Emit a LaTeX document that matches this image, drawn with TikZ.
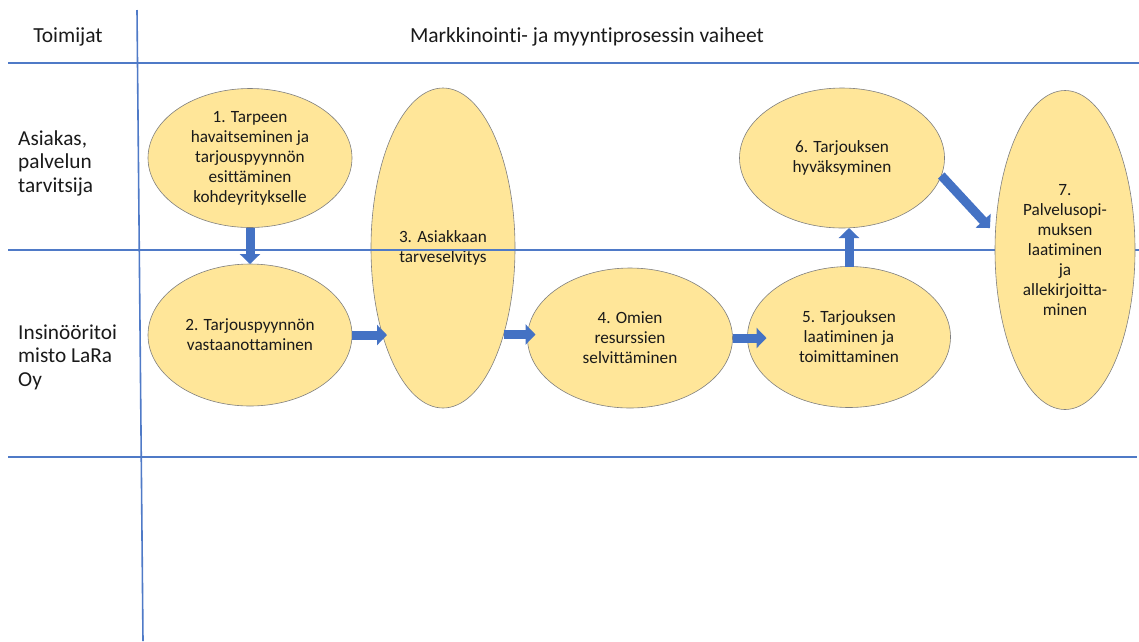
\documentclass[tikz,border=0pt]{standalone}
\usepackage{fontspec}
\setmainfont{Carlito}[Ligatures=NoCommon]
\usetikzlibrary{shapes.geometric,arrows.meta}
\definecolor{gridblue}{HTML}{4F7AC7}
\definecolor{arrowblue}{HTML}{4472C4}
\definecolor{stagefill}{HTML}{FFE699}
\definecolor{stageedge}{HTML}{7F7F7F}
\definecolor{textdark}{HTML}{1A1A1A}
\begin{document}
\begin{tikzpicture}[x=1pt,y=-1pt,
  gridline/.style={draw=gridblue,line width=1.6pt},
  stage/.style={ellipse,draw=stageedge,line width=0.6pt,fill=stagefill,
    inner sep=0pt,outer sep=0pt,align=center,text=textdark,
    font=\fontsize{17.2}{20}\selectfont},
  lanelabel/.style={anchor=west,align=left,inner sep=0pt,text=textdark,
    font=\fontsize{21.3}{23.5}\selectfont},
  headlabel/.style={inner sep=0pt,text=textdark,
    font=\fontsize{21.5}{23.5}\selectfont},
  flow/.style={draw=arrowblue,line width=9pt,
    -{Triangle[length=10pt,width=20pt]}}]
\useasboundingbox (0,0) rectangle (1139,641);

% tall stage 3 sits below the lane separator
\node[stage,minimum width=144pt,minimum height=320pt] (e3) at (443,248)
  {3. Asiakkaan\\tarveselvitys};

% table rules
\draw[gridline] (8,63) -- (1139,63);
\draw[gridline,line width=1.3pt] (8,250) -- (1139,250);
\draw[gridline] (8,457) -- (1137,457);
\draw[gridline] (137,10) -- (143,641);

% headings and lane names
\node[headlabel] (hact) at (68,37) {Toimijat};
\node[headlabel] (hphase) at (587,37) {Markkinointi- ja myyntiprosessin vaiheet};
\node[lanelabel] (lcust) at (18,163) {Asiakas,\\palvelun\\tarvitsija};
\node[lanelabel] (lcomp) at (18,357) {Insinööritoi\\misto LaRa\\Oy};

% process stages
\node[stage,minimum width=204pt,minimum height=139pt] (e1) at (250,158)
  {1. Tarpeen\\havaitseminen ja\\tarjouspyynnön\\esittäminen\\kohdeyritykselle};
\node[stage,minimum width=204pt,minimum height=142pt] (e2) at (250,335)
  {2. Tarjouspyynnön\\vastaanottaminen};
\node[stage,minimum width=205pt,minimum height=140pt] (e4) at (630,338)
  {4. Omien\\resurssien\\selvittäminen};
\node[stage,minimum width=203pt,minimum height=141pt] (e5) at (849,337)
  {5. Tarjouksen\\laatiminen ja\\toimittaminen};
\node[stage,minimum width=205pt,minimum height=140pt] (e6) at (842,158)
  {6. Tarjouksen\\hyväksyminen};
\node[stage,minimum width=140pt,minimum height=319pt] (e7) at (1065,250)
  {7.\\Palvelusopi-\\muksen\\laatiminen\\ja\\allekirjoitta-\\minen};

% flow arrows
\draw[flow] (e1.south) -- (e2.north);
\draw[flow,shorten >=-16pt] (e2.east) -- (e2.east -| e3.west);
\draw[flow,shorten >=-8pt] (e3.-55) -- (e3.-55 -| e4.west);
\draw[flow,shorten >=-19pt] (e4.east) -- (e4.east -| e5.west);
\draw[flow] (e5.north) -- (e5.north |- e6.south);
\draw[flow,shorten >=8pt] (e6.-10) -- (e7.167);
\end{tikzpicture}
\end{document}
